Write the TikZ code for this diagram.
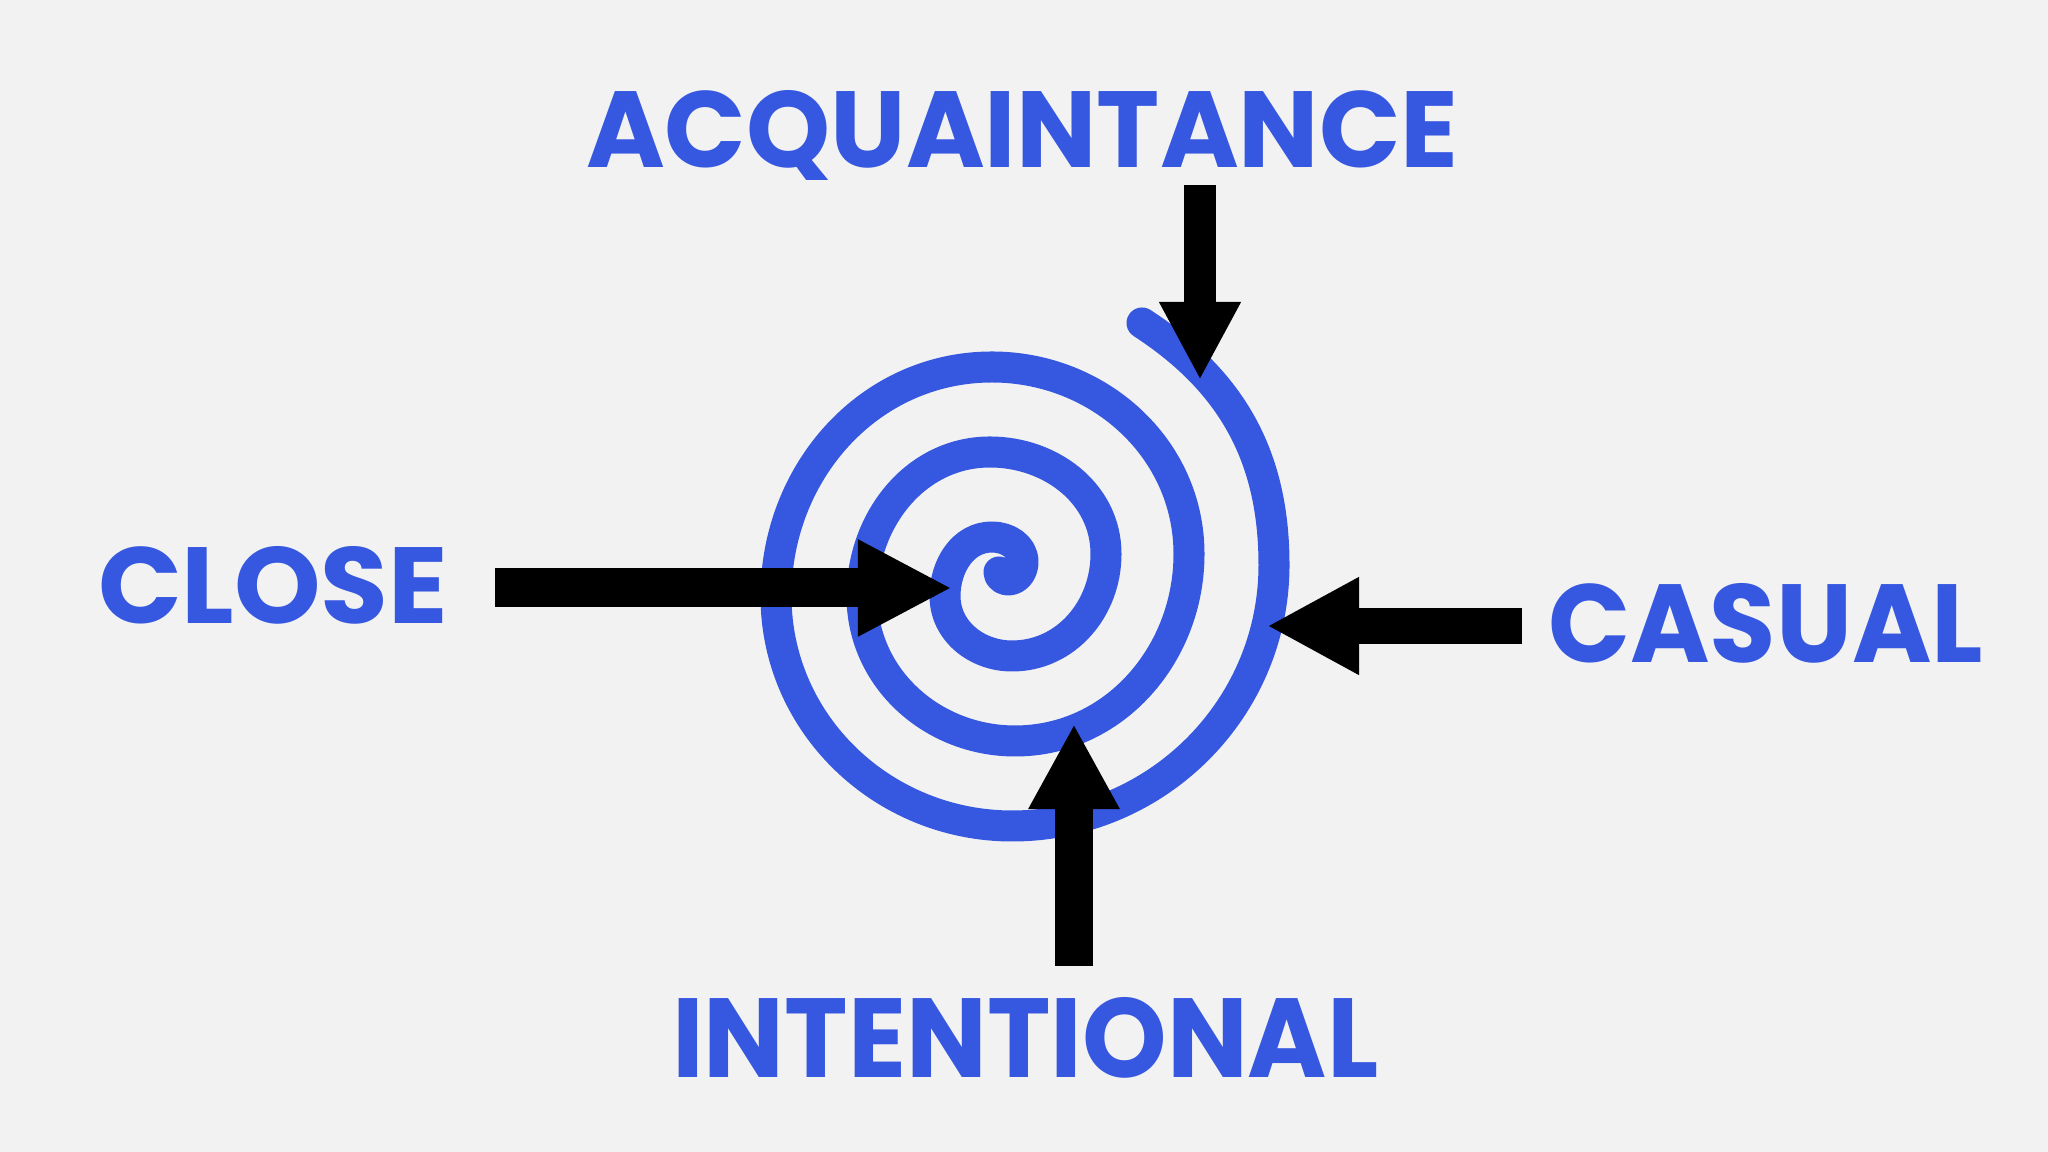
\documentclass[tikz,border=0pt]{standalone}
\usepackage{fontspec}
\usepackage{graphicx}
\newfontfamily\lblfont{Poppins}
\usetikzlibrary{arrows.meta}
\definecolor{spiralblue}{RGB}{54,87,224}
\definecolor{bgcol}{RGB}{242,242,242}
\begin{document}
\begin{tikzpicture}[x=0.01cm,y=0.01cm,
  lbl/.style={anchor=base west, inner sep=0pt, outer sep=0pt, text=spiralblue, font=\lblfont\bfseries},
  spiralline/.style={draw=spiralblue, line width=0.31cm, line cap=round, line join=round},
  bigarrow/.style={draw=black, fill=black, line width=#1, line cap=butt},
]
\fill[bgcol] (0,0) rectangle (2048,1152);
\useasboundingbox (0,0) rectangle (2048,1152);

% labels
\node[lbl] (acq) at (586,984) {\resizebox{8.72cm}{0.77cm}{ACQUAINTANCE}};
\node[lbl] (close) at (98,528) {\resizebox{3.50cm}{0.77cm}{CLOSE}};
\node[lbl] (casual) at (1548,489) {\resizebox{4.35cm}{0.79cm}{CASUAL}};
\node[lbl] (intent) at (672,74) {\resizebox{7.06cm}{0.80cm}{INTENTIONAL}};

% spiral
\coordinate (s0) at (1142,829);
\coordinate (r1) at (1274,587);
\coordinate (b1) at (1012,326);
\coordinate (l1) at (776,556);
\coordinate (t1) at (992,785);
\coordinate (r2) at (1189,598);
\coordinate (b2) at (1015,411);
\coordinate (l2) at (862,556);
\coordinate (t2) at (990,700);
\coordinate (r3) at (1106,598);
\coordinate (b3) at (1012,496);
\coordinate (l3) at (945,556);
\coordinate (t3) at (992,615);
\coordinate (r4) at (1023,590);
\coordinate (b4) at (1008,572);
\coordinate (s1) at (999,580);
\draw[spiralline] (s0) to[out=-33,in=90] (r1) to[out=-90,in=0] (b1)
  to[out=180,in=-90] (l1) to[out=90,in=180] (t1) to[out=0,in=90] (r2)
  to[out=-90,in=0] (b2) to[out=180,in=-90] (l2) to[out=90,in=180] (t2)
  to[out=0,in=90] (r3) to[out=-90,in=0] (b3) to[out=180,in=-90] (l3)
  to[out=90,in=180] (t3) to[out=0,in=90] (r4) to[out=-90,in=0] (b4)
  to[out=180,in=-90] (s1);

% arrows
\coordinate (aT0) at (1200,967); \coordinate (aT1) at (1200,772);
\coordinate (aL0) at (495,564);  \coordinate (aL1) at (952,564);
\coordinate (aR0) at (1522,526); \coordinate (aR1) at (1267,526);
\coordinate (aB0) at (1074,186); \coordinate (aB1) at (1074,428);
\draw[bigarrow=0.32cm, -{Triangle[length=0.78cm,width=0.76cm]}] (aT0) -- (aT1);
\draw[bigarrow=0.39cm, -{Triangle[length=0.94cm,width=0.90cm]}] (aL0) -- (aL1);
\draw[bigarrow=0.36cm, -{Triangle[length=0.92cm,width=0.91cm]}] (aR0) -- (aR1);
\draw[bigarrow=0.38cm, -{Triangle[length=0.85cm,width=0.85cm]}] (aB0) -- (aB1);
\end{tikzpicture}
\end{document}
